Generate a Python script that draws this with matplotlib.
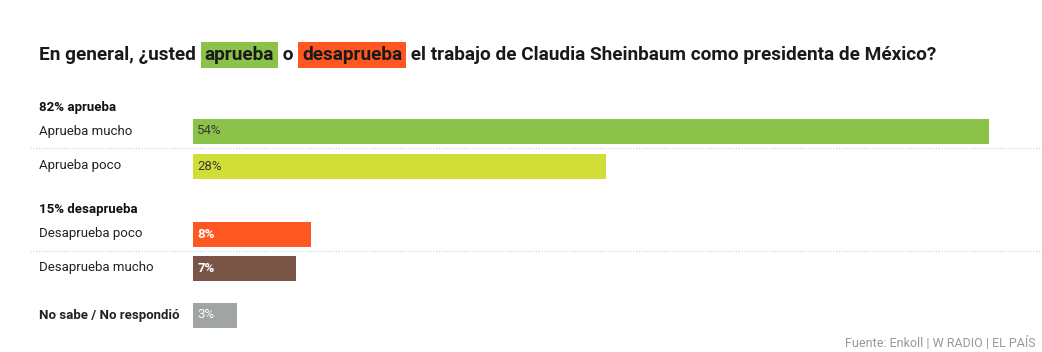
import numpy as np
import matplotlib
matplotlib.use("Agg")
from matplotlib import pyplot as plt
from matplotlib import transforms

# data
categories = ["Aprueba mucho", "Aprueba poco", "Desaprueba poco", "Desaprueba mucho", "No sabe / No respondió"]
values = [54, 28, 8, 7, 3]
groups = ["82% aprueba", "15% desaprueba"]
title_parts = ["En general, ¿usted ", "aprueba", " o ", "desaprueba", " el trabajo de Claudia Sheinbaum como presidenta de México?"]
source = "Fuente: Enkoll | W RADIO | EL PAÍS"

# layout (pixels)
W, H = 1042, 352
bar_y = [131, 166, 234, 268, 315]
bar_h = 25
group_y = [107, 210]
sep_y = [148, 251]
x0_px, px_per_pct = 193, 14.74
colors = ["#8BC34A", "#D2DE38", "#FF5722", "#795548", "#A0A5A3"]
val_colors = ["#3a3a3a", "#3a3a3a", "white", "white", "white"]
val_weight = ["normal", "normal", "bold", "bold", "normal"]
label_bold = [False, False, False, False, True]

plt.rcParams['font.family'] = ['Roboto', 'DejaVu Sans']
fig = plt.figure(figsize=(W / 100, H / 100), dpi=100)
ax = fig.add_axes([x0_px / W, 0, (W - x0_px) / W, 1])
ax.set_xlim(0, (W - x0_px) / px_per_pct)
ax.set_ylim(H, 0)
ax.axis("off")

ax.barh(bar_y, values, height=bar_h, color=colors)
mix = transforms.blended_transform_factory(fig.transFigure, ax.transData)
for y, v, c, w, lab, b in zip(bar_y, values, val_colors, val_weight, categories, label_bold):
    ax.text(0.3, y, f"{v}%", color=c, fontsize=9.5, va="center", ha="left", fontweight=w)
    fig.text(39 / W, y, lab, transform=mix, fontsize=9.5, va="center", ha="left",
             color="#222222", fontweight="bold" if b else "normal")
for y, g in zip(group_y, groups):
    fig.text(39 / W, y, g, transform=mix, fontsize=9.5, va="center", ha="left",
             color="#111111", fontweight="bold")
for y in sep_y:
    ax.plot([30 / W, 1.0], [y, y], transform=mix, color="#cccccc", lw=0.8,
            ls=(0, (1, 1.5)), clip_on=False)

# title with highlighted words
renderer = fig.canvas.get_renderer()
x = 39
hl = {1: "#8BC34A", 3: "#FF5722"}
for i, part in enumerate(title_parts):
    kw = {}
    if i in hl:
        kw["bbox"] = dict(boxstyle="square,pad=0.2", fc=hl[i], ec="none")
    t = fig.text(x / W, 1 - 55 / H, part, fontsize=13.7, fontweight="bold",
                 color="#1a1a1a", va="center", ha="left", **kw)
    bb = t.get_window_extent(renderer)
    x += bb.width + (4 if i in hl else 0)
    if i + 1 in hl:
        x += 4

fig.text(1036 / W, 1 - 350 / H, source, fontsize=9, color="#999999", va="bottom", ha="right")

fig.savefig("out.png", dpi=100, facecolor="white")
